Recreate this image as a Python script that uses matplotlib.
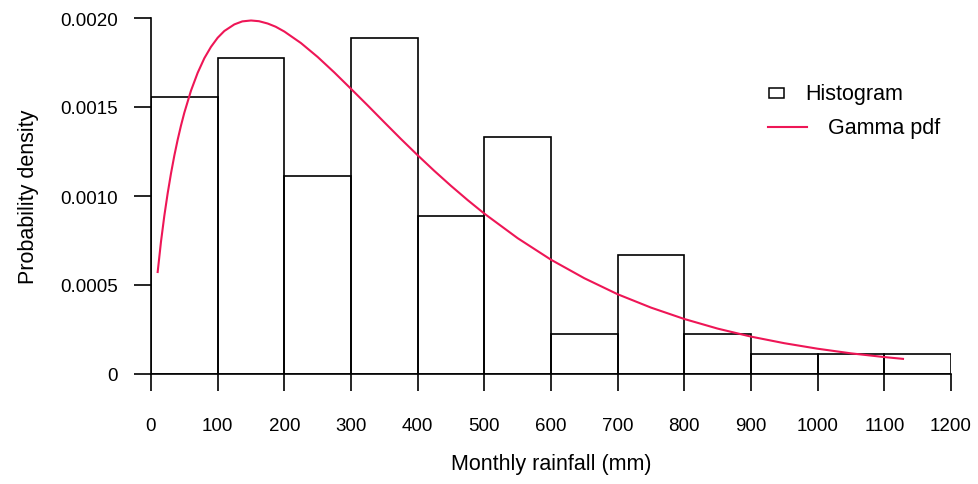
import matplotlib
matplotlib.use("Agg")
import matplotlib.pyplot as plt
from matplotlib.patches import Rectangle

# histogram bins (mm) and densities
bin_left = [0, 100, 200, 300, 400, 500, 600, 700, 800, 900, 1000, 1100]
bin_width = 100
density = [0.001556, 0.001778, 0.001111, 0.001889, 0.000889, 0.001333,
           0.000222, 0.000667, 0.000222, 0.000111, 0.000111, 0.000111]

# gamma pdf curve
curve_x = [10, 15, 20, 25, 30, 35, 40, 45, 50, 60, 70, 80, 90, 100, 110,
           125, 137, 150, 162, 175, 187, 200, 225, 250, 275, 300, 325, 350,
           375, 400, 425, 450, 475, 500, 550, 600, 650, 700, 750, 800, 850,
           900, 950, 1000, 1050, 1100, 1128]
curve_y = [0.000573, 0.000744, 0.000889, 0.001015, 0.001127, 0.001227,
           0.001316, 0.001396, 0.001468, 0.001592, 0.001692, 0.001774,
           0.001838, 0.001889, 0.001927, 0.001964, 0.001981, 0.001986,
           0.001982, 0.001969, 0.001951, 0.001924, 0.001859, 0.001781,
           0.001694, 0.001602, 0.001509, 0.001414, 0.001320, 0.001229,
           0.001141, 0.001057, 0.000977, 0.000901, 0.000763, 0.000642,
           0.000538, 0.000448, 0.000373, 0.000309, 0.000255, 0.000210,
           0.000173, 0.000142, 0.000116, 0.0000951, 0.000085]

x_ticks = [0, 100, 200, 300, 400, 500, 600, 700, 800, 900, 1000, 1100, 1200]
y_ticks = [0, 0.0005, 0.0010, 0.0015, 0.0020]
y_ticklabels = ["0", "0.0005", "0.0010", "0.0015", "0.0020"]

plt.rcParams["font.family"] = ["Liberation Sans", "DejaVu Sans"]

red = "#EE1656"
lw = 1.2

fig = plt.figure(figsize=(9.79, 4.85), dpi=100)
ax = fig.add_axes([151 / 979, 110 / 485, 800 / 979, 356 / 485])

ax.bar(bin_left, density, width=bin_width, align="edge", facecolor="none",
       edgecolor="black", linewidth=lw)
ax.plot(curve_x, curve_y, color=red, linewidth=1.5)

ax.set_xlim(0, 1200)
ax.set_ylim(0, 0.0020)
for side in ["top", "right"]:
    ax.spines[side].set_visible(False)
for side in ["left", "bottom"]:
    ax.spines[side].set_linewidth(lw)

ax.set_xticks(x_ticks)
ax.set_xticklabels([str(t) for t in x_ticks], fontsize=13.5)
ax.set_yticks(y_ticks)
ax.set_yticklabels(y_ticklabels, fontsize=13.5)
ax.tick_params(axis="x", length=12, width=lw, pad=19)
ax.tick_params(axis="y", length=12, width=lw, pad=12)

ax.set_xlabel("Monthly rainfall (mm)", fontsize=15.5, labelpad=14)
ax.set_ylabel("Probability density", fontsize=15.5, labelpad=15)

# legend drawn by hand to match the layout
ax.add_patch(Rectangle(((769 - 151) / 800, (375 - 99) / 356), 15 / 800, 10 / 356,
                       transform=ax.transAxes, facecolor="none",
                       edgecolor="black", linewidth=1.1, clip_on=False))
ax.text((805 - 151) / 800, (375 - 94) / 356, "Histogram", transform=ax.transAxes,
        va="center", ha="left", fontsize=15.5)
ax.plot([(768 - 151) / 800, (807 - 151) / 800], [(375 - 128) / 356] * 2,
        color=red, linewidth=1.5, transform=ax.transAxes, clip_on=False)
ax.text((828 - 151) / 800, (375 - 128) / 356, "Gamma pdf", transform=ax.transAxes,
        va="center", ha="left", fontsize=15.5)

fig.savefig("out.png", dpi=100)
